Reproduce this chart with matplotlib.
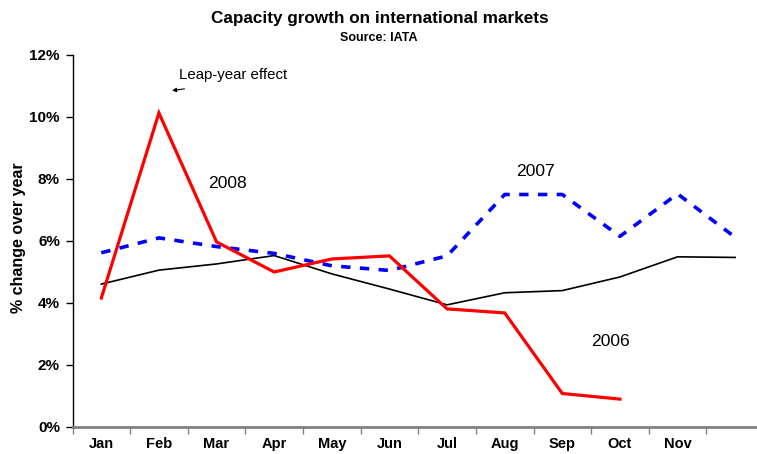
import matplotlib
matplotlib.use("Agg")
import matplotlib.pyplot as plt
from matplotlib.ticker import FixedLocator, FuncFormatter

plt.rcParams['font.family'] = ['Liberation Sans', 'DejaVu Sans']

months = ["Jan", "Feb", "Mar", "Apr", "May", "Jun", "Jul", "Aug", "Sep", "Oct", "Nov", ""]
y2006 = [4.61, 5.06, 5.26, 5.53, 4.94, 4.45, 3.94, 4.33, 4.40, 4.84, 5.49, 5.47]
y2007 = [5.62, 6.10, 5.82, 5.60, 5.20, 5.05, 5.52, 7.50, 7.50, 6.15, 7.52, 6.12]
y2008 = [4.16, 10.13, 5.97, 5.00, 5.42, 5.52, 3.81, 3.68, 1.08, 0.90]
yticks = [0, 2, 4, 6, 8, 10, 12]

W, H = 757, 454
fig = plt.figure(figsize=(W / 100, H / 100), dpi=100)
left, right, bottom, top = 72.5, 764, 427, 55
ax = fig.add_axes([left / W, 1 - bottom / H, (right - left) / W, (bottom - top) / H])

x = list(range(len(months)))
ax.plot(x[:len(y2006)], y2006, color="black", lw=1.2, solid_joinstyle="miter")
ax.plot(x[:len(y2007)], y2007, color="#0000ff", lw=2.6, linestyle=(0, (2.6, 2.6)))
ax.plot(x[:len(y2008)], y2008, color="#ff0000", lw=2.3, solid_joinstyle="miter")

ax.set_xlim(-0.5, len(months) - 0.5)
ax.set_ylim(0, 12)

ax.xaxis.set_major_locator(FixedLocator([i - 0.5 for i in range(len(months) + 1)]))
ax.xaxis.set_major_formatter(FuncFormatter(lambda v, p: ""))
ax.set_xticks(x, minor=True)
ax.set_xticklabels(months, minor=True, fontweight="bold", fontsize=10.5)
ax.tick_params(axis="x", which="major", length=5, width=1, color="#808080", direction="out")
ax.tick_params(axis="x", which="minor", length=0, pad=7.5)

ax.set_yticks(yticks)
ax.set_yticklabels([f"{v}%" for v in yticks], fontweight="bold", fontsize=11)
ax.tick_params(axis="y", length=5, width=1, direction="out", pad=4)

for s in ["top", "right"]:
    ax.spines[s].set_visible(False)
ax.spines["left"].set_color("black")
ax.spines["left"].set_linewidth(1)
ax.spines["bottom"].set_color("#808080")
ax.spines["bottom"].set_linewidth(2)

ax.set_ylabel("% change over year", fontweight="bold", fontsize=11.5)
ax.yaxis.set_label_coords((26 - left) / (right - left), (bottom - 238) / (bottom - top))

fig.text(380 / W, 1 - 19 / H, "Capacity growth on international markets",
         ha="center", va="center", fontweight="bold", fontsize=12.3)
fig.text(379 / W, 1 - 38 / H, "Source: IATA", ha="center", va="center",
         fontweight="bold", fontsize=9)

ax.text(1.86, 7.84, "2008", fontsize=12.6, va="center", ha="left")
ax.text(7.2, 8.23, "2007", fontsize=12.6, va="center", ha="left")
ax.text(8.5, 2.77, "2006", fontsize=12.6, va="center", ha="left")
ax.text(1.35, 11.35, "Leap-year effect", fontsize=10.8, va="center", ha="left")
ax.annotate("", xy=(1.18, 10.84), xytext=(1.49, 10.92),
            arrowprops=dict(arrowstyle="-|>", color="black", lw=0.8,
                            mutation_scale=6))

fig.savefig("out.png", dpi=100)
